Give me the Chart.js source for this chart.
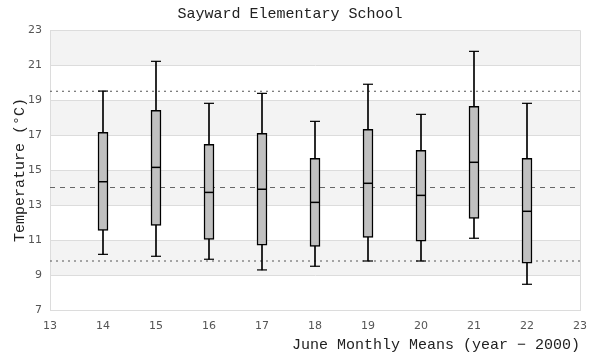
<!DOCTYPE html>
<html>
<head>
<meta charset="utf-8">
<script src="https://cdn.jsdelivr.net/npm/chart.js@4"></script>
<style>
  html, body { margin: 0; padding: 0; background: #fff; }
  #wrap { width: 600px; height: 360px; }
</style>
</head>
<body>
<div id="wrap"><canvas id="chart"></canvas></div>
<script>
// June monthly means, year - 2000
const years = [14, 15, 16, 17, 18, 19, 20, 21, 22];
const whiskerLow = [10.18, 10.07, 9.9, 9.29, 9.5, 9.8, 9.8, 11.1, 8.47];
const quartile1 = [11.55, 11.84, 11.04, 10.7, 10.64, 11.15, 10.93, 12.24, 9.67];
const medians = [14.33, 15.15, 13.72, 13.9, 13.15, 14.24, 13.55, 15.44, 12.64];
const quartile3 = [17.15, 18.41, 16.47, 17.1, 15.67, 17.33, 16.13, 18.64, 15.67];
const whiskerHigh = [19.51, 21.21, 18.81, 19.38, 17.78, 19.9, 18.18, 21.78, 18.81];

// reference lines across the whole range
const upperLimit = 19.5;
const overallMean = 14.0;
const lowerLimit = 9.8;

const xRange = [13, 23];
const yTicks = [7, 9, 11, 13, 15, 17, 19, 21, 23];

const monoFont = "'Liberation Mono', 'DejaVu Sans Mono', monospace";
const sansFont = "'DejaVu Sans', 'Noto Sans', sans-serif";

function hLine(v) {
  return [{ x: xRange[0], y: v }, { x: xRange[1], y: v }];
}

// alternating grey bands between y grid lines + frame round the plot
const bandsPlugin = {
  id: "bands",
  beforeDraw(chart) {
    const { ctx, chartArea, scales } = chart;
    const y = scales.y;
    ctx.save();
    ctx.fillStyle = "#f3f3f3";
    for (let i = 1; i < yTicks.length - 1; i += 2) {
      const top = y.getPixelForValue(yTicks[i + 1]);
      const bottom = y.getPixelForValue(yTicks[i]);
      ctx.fillRect(chartArea.left, top, chartArea.right - chartArea.left, bottom - top);
    }
    ctx.restore();
  },
  afterDraw(chart) {
    const { ctx, chartArea } = chart;
    ctx.save();
    ctx.strokeStyle = "#dcdcdc";
    ctx.lineWidth = 1;
    ctx.beginPath();
    ctx.moveTo(chartArea.left, chartArea.top + 0.5);
    ctx.lineTo(chartArea.right + 0.5, chartArea.top + 0.5);
    ctx.lineTo(chartArea.right + 0.5, chartArea.bottom);
    ctx.stroke();
    ctx.restore();
  },
};

new Chart(document.getElementById("chart"), {
  type: "bar",
  data: {
    datasets: [
      {
        type: "line",
        data: hLine(upperLimit),
        borderColor: "#555",
        borderWidth: 1,
        borderDash: [2, 4],
        pointRadius: 0,
        order: 10,
      },
      {
        type: "line",
        data: hLine(lowerLimit),
        borderColor: "#555",
        borderWidth: 1,
        borderDash: [2, 4],
        pointRadius: 0,
        order: 10,
      },
      {
        type: "line",
        data: hLine(overallMean),
        borderColor: "#666",
        borderWidth: 1,
        borderDash: [5, 5],
        pointRadius: 0,
        order: 10,
      },
      // whiskers: thin floating bars
      {
        data: years.map((x, i) => ({ x: x, y: [quartile3[i], whiskerHigh[i]] })),
        backgroundColor: "#000",
        borderWidth: 0,
        barThickness: 1,
        grouped: false,
        order: 5,
      },
      {
        data: years.map((x, i) => ({ x: x, y: [whiskerLow[i], quartile1[i]] })),
        backgroundColor: "#000",
        borderWidth: 0,
        barThickness: 1,
        grouped: false,
        order: 5,
      },
      // boxes
      {
        data: years.map((x, i) => ({ x: x, y: [quartile1[i], quartile3[i]] })),
        backgroundColor: "#c0c0c0",
        borderColor: "#000",
        borderWidth: 1.5,
        borderSkipped: false,
        barThickness: 10,
        grouped: false,
        order: 3,
      },
      // whisker caps
      {
        type: "scatter",
        data: years
          .map((x, i) => ({ x: x, y: whiskerHigh[i] }))
          .concat(years.map((x, i) => ({ x: x, y: whiskerLow[i] }))),
        pointStyle: "line",
        pointRadius: 5,
        borderColor: "#000",
        borderWidth: 1.2,
        order: 1,
      },
      // medians
      {
        type: "scatter",
        data: years.map((x, i) => ({ x: x, y: medians[i] })),
        pointStyle: "line",
        pointRadius: 5,
        borderColor: "#000",
        borderWidth: 1.5,
        order: 1,
      },
    ],
  },
  options: {
    responsive: true,
    maintainAspectRatio: false,
    animation: false,
    events: [],
    layout: { padding: { left: 0, right: 20, top: 0, bottom: 0 } },
    plugins: {
      legend: { display: false },
      tooltip: { enabled: false },
      title: {
        display: true,
        text: "Sayward Elementary School",
        color: "#222",
        font: { family: monoFont, size: 15, weight: "normal", lineHeight: 1.2 },
        padding: { top: 5, bottom: 7 },
      },
    },
    scales: {
      x: {
        type: "linear",
        min: xRange[0],
        max: xRange[1],
        offset: false,
        grid: { display: false, drawTicks: false },
        border: { display: true, color: "#dcdcdc" },
        ticks: {
          stepSize: 1,
          padding: 10,
          color: "#555",
          font: { family: sansFont, size: 11 },
        },
        title: {
          display: true,
          text: "June Monthly Means (year \u2212 2000)",
          align: "end",
          color: "#222",
          font: { family: monoFont, size: 15, lineHeight: 1.2 },
          padding: { top: 0, bottom: 6 },
        },
        afterFit(scale) {
          scale.height = 50;
        },
      },
      y: {
        min: yTicks[0],
        max: yTicks[yTicks.length - 1],
        grid: { color: "#dcdcdc", drawTicks: false },
        border: { display: true, color: "#dcdcdc" },
        afterBuildTicks(scale) {
          scale.ticks = yTicks.map((v) => ({ value: v }));
        },
        ticks: {
          padding: 8,
          color: "#555",
          font: { family: sansFont, size: 11 },
        },
        title: {
          display: true,
          text: "Temperature (\u00b0C)",
          color: "#222",
          font: { family: monoFont, size: 15, lineHeight: 1.2 },
          padding: { top: 11, bottom: 0 },
        },
        afterFit(scale) {
          scale.width = 50;
        },
      },
    },
  },
  plugins: [bandsPlugin],
});
</script>
</body>
</html>
